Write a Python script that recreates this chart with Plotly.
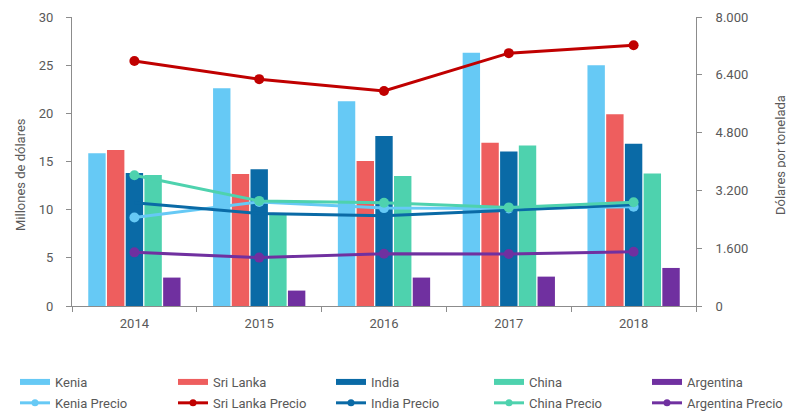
import plotly.graph_objects as go

years = ["2014", "2015", "2016", "2017", "2018"]

# Millones de dólares (left axis)
kenia = [15.85, 22.6, 21.25, 26.3, 25.0]
sri_lanka = [16.2, 13.7, 15.05, 16.95, 19.9]
india = [13.8, 14.2, 17.65, 16.05, 16.85]
china = [13.6, 9.65, 13.5, 16.65, 13.75]
argentina = [2.95, 1.6, 2.95, 3.05, 3.95]

# Dólares por tonelada (right axis)
kenia_precio = [2450, 2880, 2710, 2700, 2750]
sri_lanka_precio = [6780, 6280, 5950, 7000, 7220]
india_precio = [2860, 2560, 2500, 2640, 2800]
china_precio = [3620, 2910, 2860, 2730, 2870]
argentina_precio = [1485, 1340, 1445, 1440, 1500]

bar_names = ["Kenia", "Sri Lanka", "India", "China", "Argentina"]
bar_values = [kenia, sri_lanka, india, china, argentina]
bar_colors = ["#66C9F5", "#EE5E5E", "#0A6AA6", "#4ED2AE", "#7030A0"]

line_names = ["Kenia Precio", "Sri Lanka Precio", "India Precio", "China Precio", "Argentina Precio"]
line_values = [kenia_precio, sri_lanka_precio, india_precio, china_precio, argentina_precio]
line_colors = ["#66C9F5", "#C00000", "#0A6AA6", "#4ED2AE", "#7030A0"]
line_markers = [True, True, False, True, True]

left_title = "Millones de dólares"
right_title = "Dólares por tonelada"

legend_ids = ["legend", "legend2", "legend3", "legend4", "legend5"]

fig = go.Figure()
for name, vals, col in zip(bar_names, bar_values, bar_colors):
    fig.add_trace(go.Bar(x=years, y=vals, name=name, marker_color=col,
                         marker_line_width=0, yaxis="y", showlegend=False))

for name, vals, col, mk in zip(line_names, line_values, line_colors, line_markers):
    fig.add_trace(go.Scatter(x=years, y=vals, name=name,
                             mode="lines+markers" if mk else "lines",
                             line=dict(color=col, width=3),
                             marker=dict(color=col, size=10), yaxis="y2",
                             showlegend=False))

# legend entries: one column per country (bar entry above price entry)
for i in range(5):
    fig.add_trace(go.Scatter(x=[None], y=[None], name=bar_names[i], mode="lines",
                             line=dict(color=bar_colors[i], width=6),
                             legend=legend_ids[i], legendgroup="b%d" % i,
                             showlegend=True, hoverinfo="skip"))
    fig.add_trace(go.Scatter(x=[None], y=[None], name=line_names[i], mode="lines+markers",
                             line=dict(color=line_colors[i], width=3),
                             marker=dict(color=line_colors[i], size=7),
                             legend=legend_ids[i], legendgroup="l%d" % i,
                             showlegend=True, hoverinfo="skip"))

# the page body adds an 8px offset; the figure is sized to fill the rest
fig_w, fig_h = 786, 404
m_l, m_r, m_t, m_b = 64, 98, 9, 106
plot_w = fig_w - m_l - m_r
plot_h = fig_h - m_t - m_b

layout_legends = {}
for i, lid in enumerate(legend_ids):
    lx = 7 + 158 * i
    layout_legends[lid] = dict(
        x=(lx - m_l) / plot_w, y=-0.211, xanchor="left", yanchor="top",
        orientation="v", traceorder="grouped", tracegroupgap=1,
        font=dict(size=13, color="#595959"), bgcolor="rgba(0,0,0,0)",
    )

def px_to_paper(px, py):
    return (px - m_l) / plot_w, 1 - (py - m_t) / plot_h

lt_x, lt_y = px_to_paper(12, 167)
rt_x, rt_y = px_to_paper(772, 147)

fig.update_layout(
    width=fig_w, height=fig_h,
    margin=dict(l=m_l, r=m_r, t=m_t, b=m_b, autoexpand=False),
    paper_bgcolor="white", plot_bgcolor="white",
    font=dict(family="Roboto, Arial, sans-serif", size=12, color="#595959"),
    separators=",.",
    barmode="group", bargap=0.25, bargroupgap=0.07,
    showlegend=True,
    xaxis=dict(showline=True, linecolor="#8c8c8c", linewidth=1,
               ticks="outside", tickson="boundaries", ticklen=5, tickcolor="#8c8c8c",
               showgrid=False, tickfont=dict(size=13), ticklabelstandoff=5),
    yaxis=dict(range=[0, 30], dtick=5, showline=True, linecolor="#8c8c8c",
               ticks="outside", ticklen=5, tickcolor="#8c8c8c", showgrid=False,
               zeroline=False, tickfont=dict(size=13), ticklabelstandoff=10),
    yaxis2=dict(range=[0, 8000], dtick=1600, overlaying="y", side="right",
                showline=True, linecolor="#8c8c8c", ticks="outside", ticklen=5,
                tickcolor="#8c8c8c", showgrid=False, zeroline=False,
                tickformat=",d", tickfont=dict(size=13), ticklabelstandoff=11),
    annotations=[
        dict(text=left_title, x=lt_x, y=lt_y, xref="paper", yref="paper",
             textangle=-90, showarrow=False, xanchor="center", yanchor="middle",
             font=dict(size=13, color="#595959")),
        dict(text=right_title, x=rt_x, y=rt_y, xref="paper", yref="paper",
             textangle=-90, showarrow=False, xanchor="center", yanchor="middle",
             font=dict(size=13, color="#595959")),
    ],
    **layout_legends,
)

fig.write_html("out.html")
